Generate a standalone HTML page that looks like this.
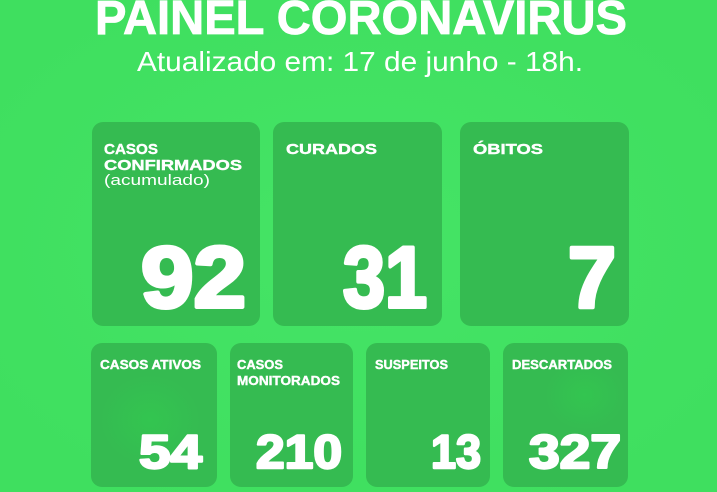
<!DOCTYPE html>
<html>
<head>
<meta charset="utf-8">
<style>
  html,body{margin:0;padding:0;width:717px;height:492px;overflow:hidden;background:#42e262;}
  svg{display:block;}
  text{font-family:"Liberation Sans", sans-serif;fill:#ffffff;}
  .lbl{font-weight:bold;stroke:#ffffff;stroke-width:0.4;}
  .num{font-weight:bold;stroke:#ffffff;stroke-linejoin:round;}
  .big{stroke-width:4;}
  .small{stroke-width:2.4;}
</style>
</head>
<body>
<svg width="717" height="492" viewBox="0 0 717 492" xmlns="http://www.w3.org/2000/svg">
  <defs>
    <radialGradient id="bgglow" cx="0.5" cy="0.5" r="0.6">
      <stop offset="0" stop-color="#45e466"/>
      <stop offset="1" stop-color="#3fdf5f"/>
    </radialGradient>
    <radialGradient id="spot" cx="0.5" cy="0.5" r="0.5">
      <stop offset="0" stop-color="#2fd84f" stop-opacity="0.35"/>
      <stop offset="1" stop-color="#2fd84f" stop-opacity="0"/>
    </radialGradient>
  </defs>
  <rect x="0" y="0" width="717" height="492" fill="url(#bgglow)"/>

  <!-- Title -->
  <text x="95" y="34" font-size="48" font-weight="bold" stroke="#ffffff" stroke-width="0.8" textLength="532" lengthAdjust="spacingAndGlyphs">PAINEL CORONAVIRUS</text>
  <text x="137" y="71" font-size="28" textLength="446" lengthAdjust="spacingAndGlyphs">Atualizado em: 17 de junho - 18h.</text>

  <!-- Top cards -->
  <rect x="92" y="122" width="168" height="204" rx="11" fill="#35bb51"/>
  <rect x="273" y="122" width="169" height="204" rx="11" fill="#35bb51"/>
  <rect x="460" y="122" width="169" height="204" rx="11" fill="#35bb51"/>

  <text class="lbl" x="104" y="154" font-size="15" textLength="54" lengthAdjust="spacingAndGlyphs">CASOS</text>
  <text class="lbl" x="104" y="170" font-size="15" textLength="138" lengthAdjust="spacingAndGlyphs">CONFIRMADOS</text>
  <text x="104" y="185" font-size="15" textLength="106" lengthAdjust="spacingAndGlyphs">(acumulado)</text>
  <text class="num big" x="141" y="307" font-size="86" textLength="105" lengthAdjust="spacingAndGlyphs">92</text>

  <text class="lbl" x="286" y="154" font-size="15" textLength="91" lengthAdjust="spacingAndGlyphs">CURADOS</text>
  <text class="num big" x="343" y="307" font-size="86" textLength="84" lengthAdjust="spacingAndGlyphs">31</text>

  <text class="lbl" x="473" y="154" font-size="15" textLength="70" lengthAdjust="spacingAndGlyphs">ÓBITOS</text>
  <text class="num big" x="568" y="307" font-size="86" textLength="48" lengthAdjust="spacingAndGlyphs">7</text>

  <!-- Bottom cards -->
  <rect x="91" y="343" width="126" height="144" rx="11" fill="#35bb51"/>
  <ellipse cx="150" cy="420" rx="50" ry="45" fill="url(#spot)"/>
  <rect x="230" y="343" width="123" height="144" rx="11" fill="#35bb51"/>
  <rect x="366" y="343" width="124" height="144" rx="11" fill="#35bb51"/>
  <rect x="503" y="343" width="125" height="144" rx="11" fill="#35bb51"/>
  <ellipse cx="585" cy="395" rx="40" ry="35" fill="url(#spot)"/>

  <text class="lbl" x="100" y="369" font-size="12.5" textLength="101" lengthAdjust="spacingAndGlyphs">CASOS ATIVOS</text>
  <text class="num small" x="139" y="468" font-size="47" textLength="63" lengthAdjust="spacingAndGlyphs">54</text>

  <text class="lbl" x="237" y="369" font-size="12.5" textLength="46" lengthAdjust="spacingAndGlyphs">CASOS</text>
  <text class="lbl" x="237" y="385" font-size="12.5" textLength="103" lengthAdjust="spacingAndGlyphs">MONITORADOS</text>
  <text class="num small" x="256" y="468" font-size="47" textLength="86" lengthAdjust="spacingAndGlyphs">210</text>

  <text class="lbl" x="375" y="369" font-size="12.5" textLength="73" lengthAdjust="spacingAndGlyphs">SUSPEITOS</text>
  <text class="num small" x="431" y="468" font-size="47" textLength="50" lengthAdjust="spacingAndGlyphs">13</text>

  <text class="lbl" x="512" y="369" font-size="12.5" textLength="100" lengthAdjust="spacingAndGlyphs">DESCARTADOS</text>
  <text class="num small" x="529" y="468" font-size="47" textLength="92" lengthAdjust="spacingAndGlyphs">327</text>
</svg>
</body>
</html>
